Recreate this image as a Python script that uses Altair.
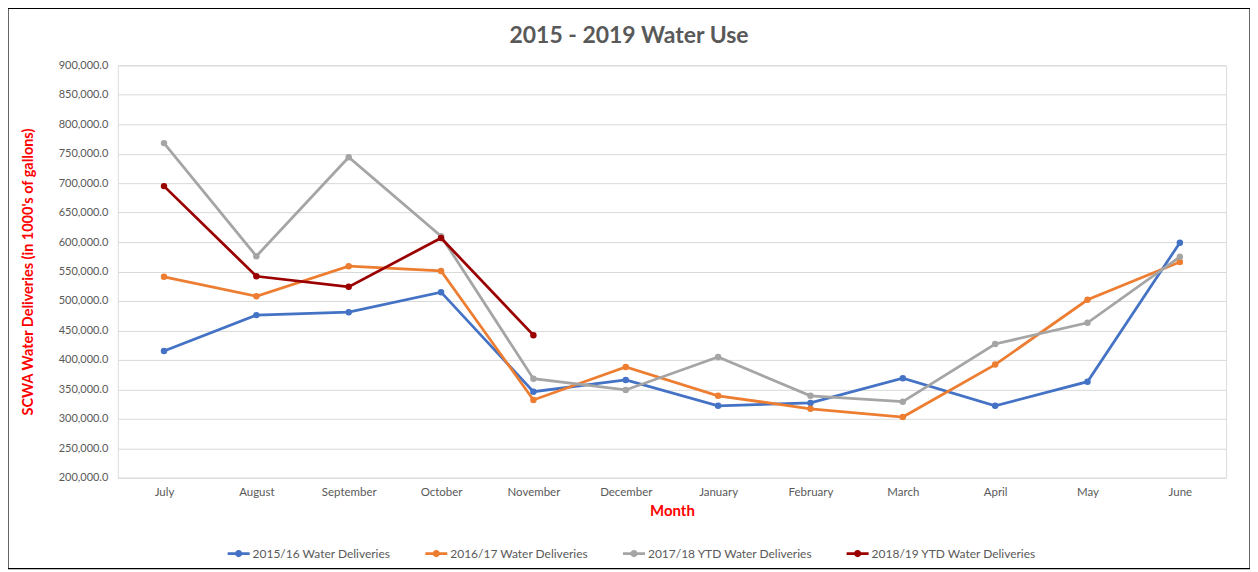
import altair as alt
import pandas as pd

months = ["July", "August", "September", "October", "November", "December",
          "January", "February", "March", "April", "May", "June"]
series_names = ["2015/16 Water Deliveries", "2016/17 Water Deliveries",
                "2017/18 YTD Water Deliveries", "2018/19 YTD Water Deliveries"]
colors = ["#4472C4", "#ED7D31", "#A5A5A5", "#9B0000"]

s2015 = [415000, 476000, 481000, 515000, 346000, 366000, 322000, 327000, 369000, 322000, 363000, 599000]
s2016 = [541000, 508000, 559000, 551000, 332000, 388000, 339000, 317000, 303000, 392000, 502000, 566000]
s2017 = [768000, 576000, 744000, 610000, 368000, 349000, 405000, 339000, 329000, 427000, 463000, 575000]
s2018 = [695000, 542000, 524000, 607000, 442000]

y_ticks = [200000, 250000, 300000, 350000, 400000, 450000, 500000, 550000,
           600000, 650000, 700000, 750000, 800000, 850000, 900000]

chart_title = "2015 - 2019 Water Use"

rows = []
for name, vals in zip(series_names, [s2015, s2016, s2017, s2018]):
    for m, v in zip(months, vals):
        rows.append({"Month": m, "Series": name, "Value": v})
df = pd.DataFrame(rows)

FONT = "Lato"
GRAY = "#595959"

sym_path = "M-1,-0.12H1V0.12H-1Z M0.33,0A0.33,0.33,0,1,1,-0.33,0A0.33,0.33,0,1,1,0.33,0Z"
legend = alt.Legend(
    title=None, orient="none", legendX=110, legendY=478, direction="horizontal",
    symbolType=sym_path, symbolSize=484, symbolStrokeWidth=0,
    labelFont=FONT, labelFontSize=12, labelColor=GRAY, columnPadding=34,
    labelOffset=3, labelLimit=0,
)

x_enc = alt.X("Month:N", sort=months, scale=alt.Scale(type="point", padding=0.5),
              axis=alt.Axis(title="Month", titleColor="#FF0000", titleFont=FONT,
                            titleFontSize=15, titleFontWeight="bold", titlePadding=5,
                            labelFont=FONT, labelFontSize=11.5, labelColor=GRAY,
                            labelAngle=0, ticks=False, domain=False, labelPadding=9,
                            grid=False))
y_enc = alt.Y("Value:Q", scale=alt.Scale(domain=[200000, 900000], nice=False),
              axis=alt.Axis(title="SCWA Water Deliveries (in 1000's of gallons)",
                            titleColor="#FF0000", titleFont=FONT, titleFontSize=14.5,
                            titleFontWeight="bold", titlePadding=23,
                            values=y_ticks, format=",.1f", labelFont=FONT,
                            labelFontSize=11, labelColor=GRAY, ticks=False,
                            domain=False, labelPadding=10, gridColor="#D9D9D9",
                            gridWidth=1))
color_enc = alt.Color("Series:N", sort=series_names,
                      scale=alt.Scale(domain=series_names, range=colors), legend=legend)

lines = alt.Chart(df).mark_line(strokeWidth=2.75).encode(x=x_enc, y=y_enc, color=color_enc)
points = alt.Chart(df).mark_circle(size=42, opacity=1).encode(x=x_enc, y=y_enc, color=color_enc)

border = alt.Chart(pd.DataFrame({"a": [0]})).mark_rect(
    fill=None, stroke="#000000", strokeWidth=1.2).encode(
    x=alt.value(-110), x2=alt.value(1134), y=alt.value(-57), y2=alt.value(504))

title_layer = alt.Chart(pd.DataFrame({"t": [chart_title]})).mark_text(
    font=FONT, fontSize=23, fontWeight="bold", color=GRAY, align="center",
    baseline="middle").encode(text="t:N", x=alt.value(512), y=alt.value(-29))

chart = alt.layer(lines, points, border, title_layer).properties(
    width=1110, height=413,
    padding={"left": 110, "top": 57, "right": 24, "bottom": 92},
    autosize=alt.AutoSizeParams(type="none"),
).configure_view(stroke=None).configure(background="white")

chart.save("out.html", embed_options={"renderer": "svg", "actions": False})
